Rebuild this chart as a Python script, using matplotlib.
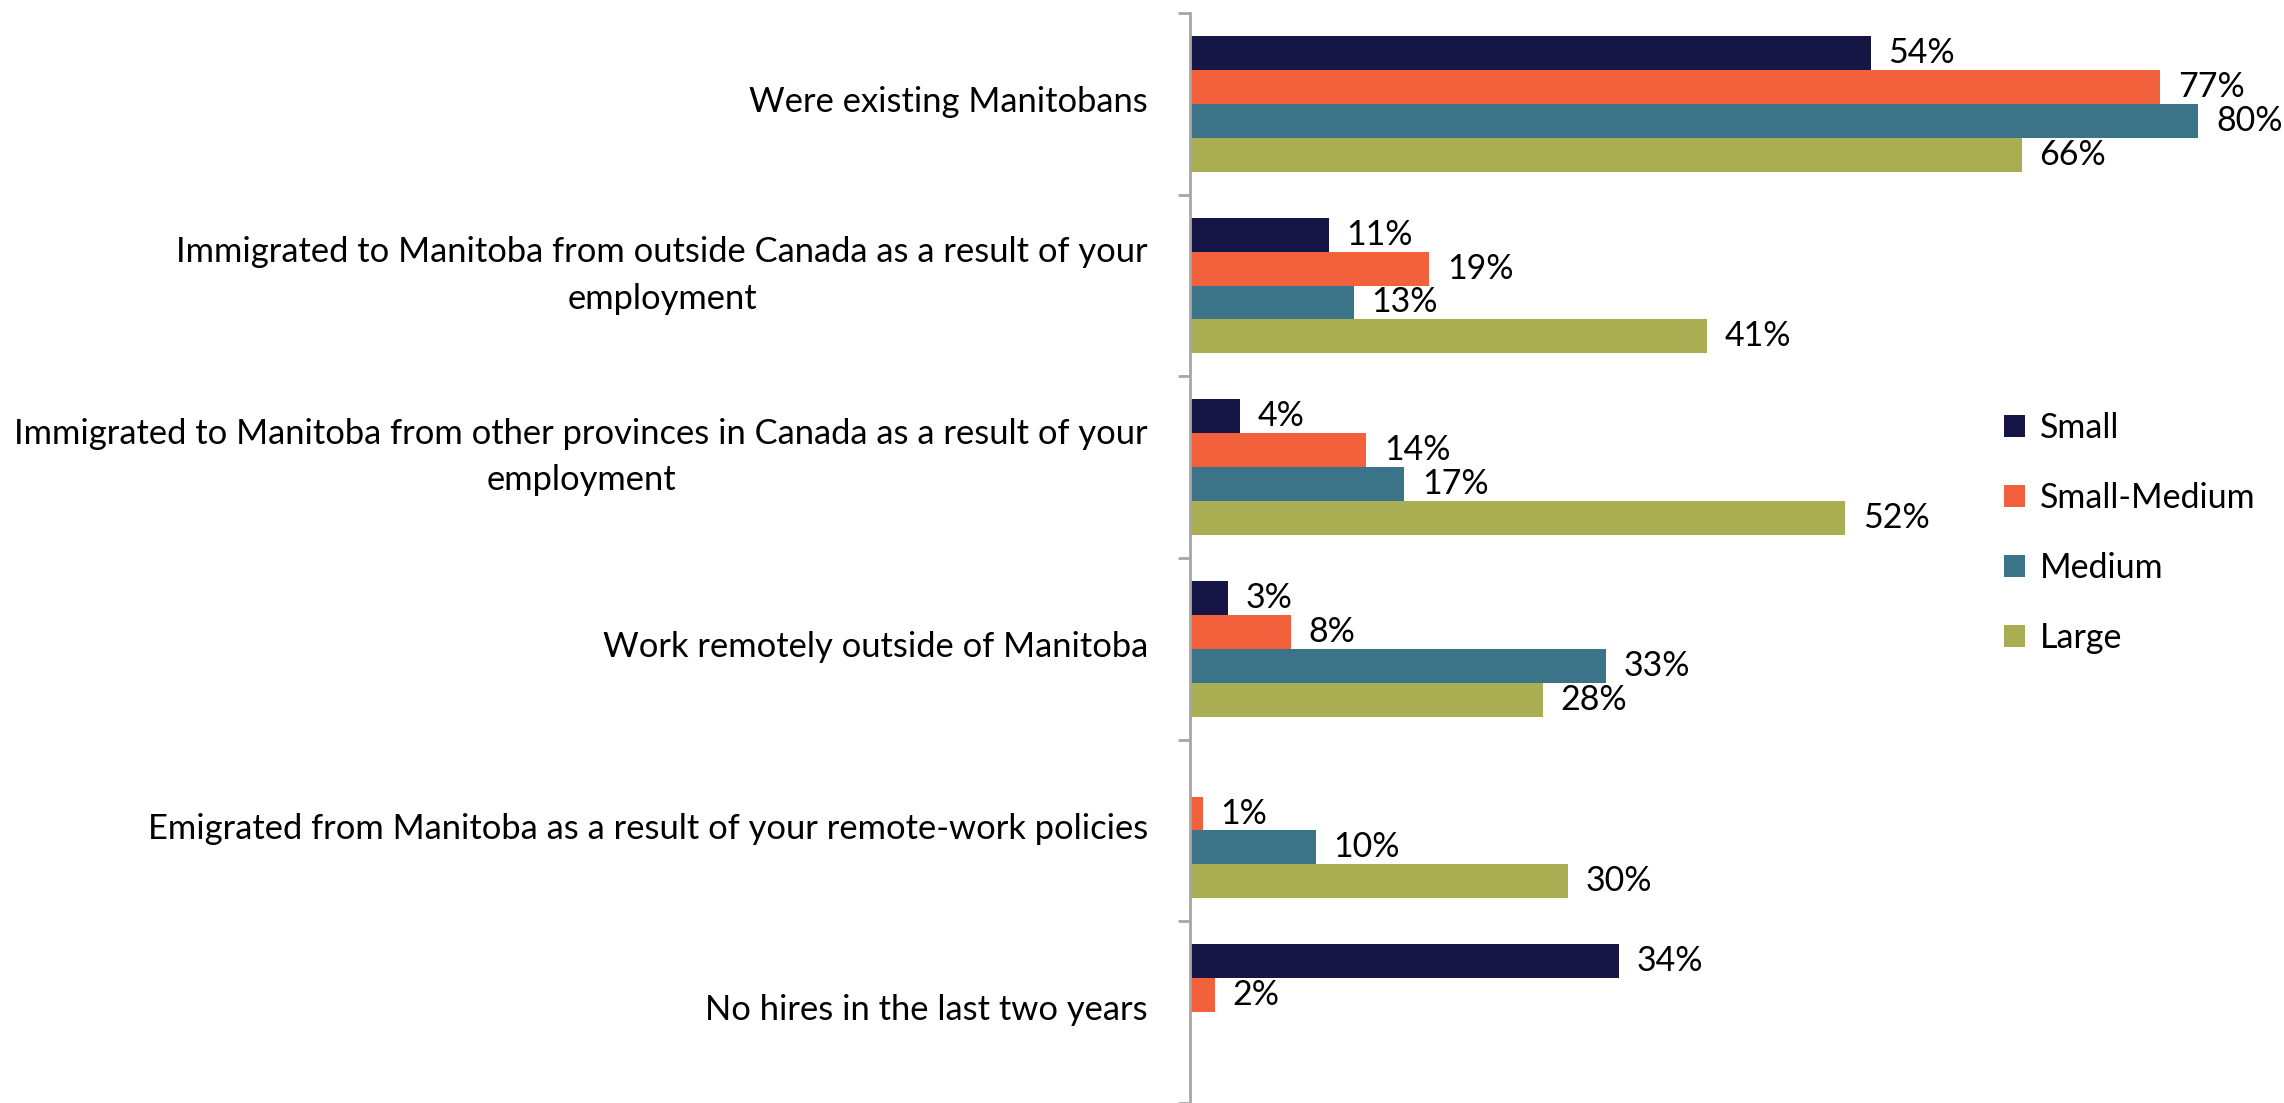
import numpy as np
import matplotlib
matplotlib.use("Agg")
import matplotlib.pyplot as plt
import matplotlib.transforms as mtransforms
from matplotlib.patches import Patch

categories = [
    "Were existing Manitobans",
    "Immigrated to Manitoba from outside Canada as a result of your\nemployment",
    "Immigrated to Manitoba from other provinces in Canada as a result of your\nemployment",
    "Work remotely outside of Manitoba",
    "Emigrated from Manitoba as a result of your remote-work policies",
    "No hires in the last two years",
]
series_names = ["Small", "Small-Medium", "Medium", "Large"]
small = [54, 11, 4, 3, None, 34]
small_medium = [77, 19, 14, 8, 1, 2]
medium = [80, 13, 17, 33, 10, None]
large = [66, 41, 52, 28, 30, None]

colors = ["#151546", "#F2603C", "#3B7489", "#A9AE52"]

plt.rcParams["font.family"] = ["Lato", "DejaVu Sans"]
FS = 24.5
FS_CAT = 24.8

fig = plt.figure(figsize=(22.84, 11.03), dpi=100)
ax = fig.add_axes([1190 / 2284, 0.0, 1094 / 2284, 1 - 13 / 1103])

bar_h = 0.187
y = np.arange(len(categories))
all_series = [small, small_medium, medium, large]
for k, (vals, col) in enumerate(zip(all_series, colors)):
    offs = (k - 1.5) * bar_h
    for i, v in enumerate(vals):
        if v is None:
            continue
        ax.barh(y[i] + offs, v, height=bar_h, color=col, edgecolor="none")
        ax.text(v + 1.4, y[i] + offs, f"{v}%", va="center", ha="left",
                fontsize=FS, color="black")

ax.set_ylim(len(categories) - 0.5, -0.5)
ax.set_xlim(0, 86.8)

# category labels, right-aligned against the axis; wrapped ones sit a bit higher
label_tr = mtransforms.blended_transform_factory(ax.transAxes, ax.transData) + \
    mtransforms.ScaledTranslation(-42 / 100, 0, fig.dpi_scale_trans)
for i, cat in enumerate(categories):
    lift = 0.055 if "\n" in cat else 0.01
    ax.text(0, y[i] - lift, cat, transform=label_tr, fontsize=FS_CAT,
            ha="right", va="center", multialignment="center", linespacing=1.56)

ax.set_yticks(np.arange(-0.5, len(categories), 1.0))
ax.set_yticklabels([])
ax.tick_params(axis="y", which="major", length=9, width=2, color="#A6A6A6")
ax.set_xticks([])

for s in ["top", "right", "bottom"]:
    ax.spines[s].set_visible(False)
ax.spines["left"].set_color("#A6A6A6")
ax.spines["left"].set_linewidth(2)

handles = [Patch(facecolor=c, edgecolor="none") for c in colors]
fig.legend(handles, series_names, loc="upper left",
           bbox_to_anchor=(1990 / 2284, 1 - 398 / 1103), frameon=False,
           fontsize=FS, handlelength=0.62, handleheight=0.62, handletextpad=0.45,
           labelspacing=1.12, borderaxespad=0)

fig.savefig("out.png", dpi=100, facecolor="white")
